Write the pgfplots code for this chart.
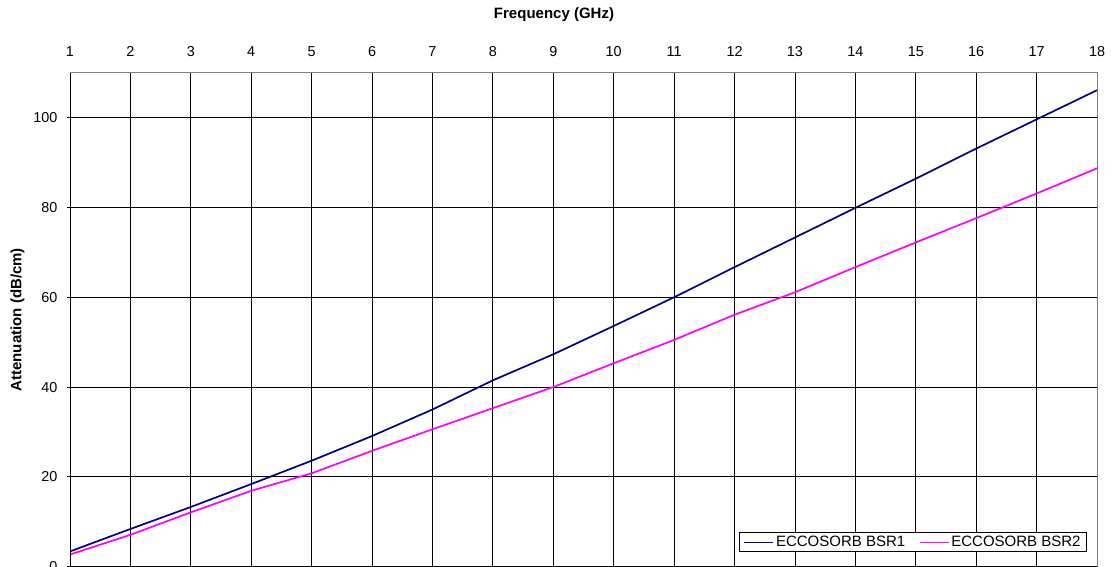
\documentclass[border=0pt]{standalone}
\usepackage{pgfplots}
\pgfplotsset{compat=1.18}
\usepackage{fontspec}
\setmainfont{Liberation Sans}
\definecolor{bsrone}{RGB}{0,0,128}
\definecolor{bsrtwo}{RGB}{255,0,255}
\begin{document}
\begin{tikzpicture}
\begin{axis}[
  scale only axis,
  width=1027pt, height=494pt,
  xmin=1, xmax=18, ymin=0, ymax=110,
  xtick={1,...,18},
  ytick={0,20,40,60,80,100},
  xticklabel pos=upper,
  xtick style={draw=none},
  ytick pos=left,
  ytick align=outside,
  major tick length=3pt,
  ytick style={black, line width=0.8pt},
  grid=major,
  major grid style={black, line width=0.8pt},
  axis line style={draw=gray, line width=0.8pt},
  /pgf/number format/assume math mode=true,
  tick label style={font=\fontsize{14.4}{17}\selectfont},
  xticklabel style={yshift=12.5pt},
  yticklabel style={xshift=-6pt},
  xlabel={\textbf{Frequency (GHz)}},
  ylabel={\textbf{Attenuation (dB/cm)}},
  label style={font=\fontsize{15}{17}\selectfont},
  xlabel style={at={(rel axis cs:0.5,1)}, anchor=center, yshift=57.7pt, xshift=-29.5pt},
  ylabel style={yshift=2pt},
  legend columns=2,
  legend style={at={(axis cs:18,0)}, anchor=south east, xshift=-10pt, yshift=14.7pt,
    draw=black, line width=0.8pt, font=\fontsize{15}{17}\selectfont,
    inner xsep=4pt, inner ysep=1.5pt,
    /tikz/every even column/.append style={column sep=12pt}},
  legend image code/.code={\draw[#1, line width=1.2pt] (0pt,0pt) -- (29pt,0pt);},
]
\addplot[bsrone, line width=1.7pt] coordinates {
(1,3.4) (2,8.4) (3,13.3) (4,18.4) (5,23.6) (6,29.1) (7,35.0) (8,41.5) (9,47.3)
(10,53.6) (11,60.0) (12,66.7) (13,73.3) (14,79.9) (15,86.4) (16,93.1) (17,99.6) (18,106.1)};
\addlegendentry{ECCOSORB BSR1}
\addplot[bsrtwo, line width=1.7pt] coordinates {
(1,2.7) (2,7.1) (3,12.1) (4,16.9) (5,20.8) (6,25.8) (7,30.6) (8,35.3) (9,40.0)
(10,45.3) (11,50.5) (12,56.1) (13,61.1) (14,66.7) (15,72.2) (16,77.6) (17,83.1) (18,88.7)};
\addlegendentry{ECCOSORB BSR2}
\draw[black, line width=0.8pt] (rel axis cs:0,0) -- (rel axis cs:0,1);
\draw[black, line width=0.8pt] (rel axis cs:0,0) -- (rel axis cs:1,0);
\end{axis}
\pgfresetboundingbox
\path ([xshift=-70pt]current axis.south west) rectangle ([xshift=14pt,yshift=72.7pt]current axis.north east);
\end{tikzpicture}
\end{document}
